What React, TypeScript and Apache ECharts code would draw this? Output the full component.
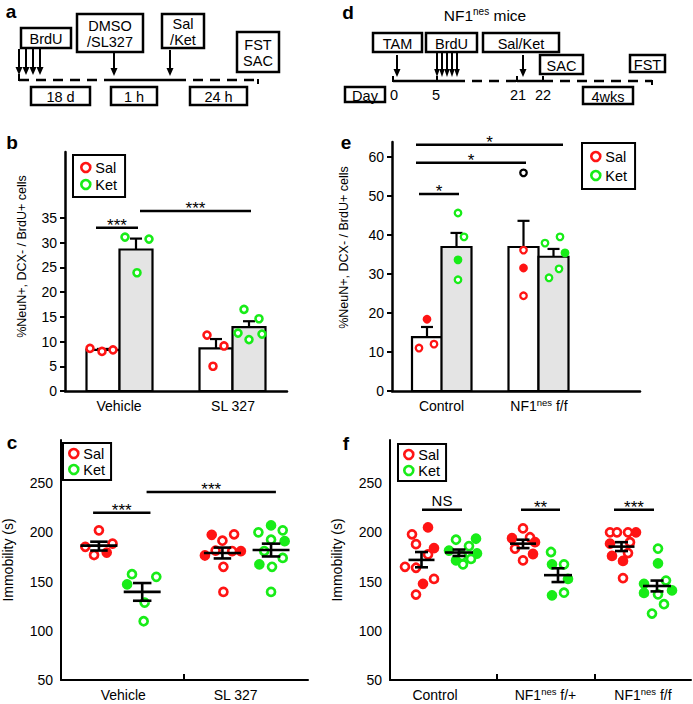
import React, { useEffect, useRef } from 'react';
import * as echarts from 'echarts';

const FONT = '"Liberation Sans", Arial, Helvetica, sans-serif';
const RED = '#ff1414';
const GREEN = '#18ec18';
const BAR_GRAY = '#e4e4e4';

// ---------------- Panel b (bars, %NeuN+ DCX- / BrdU+) ----------------
const bCategories = ['Vehicle', 'SL 327'];
const bCategoryX = [0.54, 1.68];
const bSalBarX = [0.38, 1.51];
const bKetBarX = [0.71, 1.84];
const bSalMean = [8.3, 8.6];
const bSalTop = [8.5, 10.5];
const bKetMean = [28.6, 12.9];
const bKetTop = [30.8, 14.1];
// [offset from bar centre, value, filled]
const bSalVehicle = [[-0.13, 8.6, 0], [-0.01, 8.0, 0], [0.10, 8.3, 0]];
const bSalSL327 = [[-0.09, 11.3, 0], [0.08, 9.1, 0], [-0.03, 5.0, 0]];
const bKetVehicle = [[-0.11, 31.1, 0], [0.13, 30.7, 0], [0.01, 23.9, 0]];
const bKetSL327 = [[-0.05, 16.5, 0], [0.10, 14.6, 0], [-0.11, 11.7, 0], [0.0, 10.4, 0], [0.13, 11.5, 0]];
const bSig = [[0.31, 33, 0.73], [0.75, 36.4, 1.86]];
const bSigText = ['***', '***'];
const bTicks = [0, 5, 10, 15, 20, 25, 30, 35];

// ---------------- Panel e (bars, NF1nes) ----------------
const eCategories = ['Control', '{n|NF1}{s|nes}{n| f/f}'];
const eCategoryX = [0.495, 1.47];
const eSalBarX = [0.35, 1.315];
const eKetBarX = [0.645, 1.615];
const eSalMean = [13.8, 36.9];
const eSalTop = [16.4, 43.6];
const eKetMean = [36.9, 34.4];
const eKetTop = [40.5, 36.4];
const eSalControl = [[-0.08, 11.0, 0], [0.0, 18.4, 1], [0.07, 12.0, 0]];
const eSalNF1 = [[0.0, 36.1, 0], [0.0, 31.5, 1], [0.0, 24.4, 0]];
const eSalOutlier = [[0.0, 55.9, 0]];
const eKetControl = [[0.015, 45.6, 0], [0.075, 39.5, 0], [0.015, 33.6, 1], [0.015, 28.5, 0]];
const eKetNF1 = [[-0.085, 37.9, 0], [0.065, 39.5, 0], [0.115, 35.4, 1], [0.055, 31.3, 0], [-0.045, 29.0, 0]];
const eSig = [[0.27, 50.5, 0.67], [0.24, 58.5, 1.34], [0.24, 63.1, 1.71]];
const eSigText = ['*', '*', '*'];
const eTicks = [0, 10, 20, 30, 40, 50, 60];

// ---------------- Panel c (immobility, SL327) ----------------
const cCategories = ['Vehicle', 'SL 327'];
const cCategoryX = [0.64, 1.795];
const cBoundary = [1.26];
const cSalX = [0.39, 1.66];
const cKetX = [0.835, 2.16];
const cSalMean = [186.5, 179];
const cSalLo = [181.5, 173.5];
const cSalHi = [190.5, 184.5];
const cKetMean = [139.5, 182];
const cKetLo = [130.5, 175.5];
const cKetHi = [148.5, 188.5];
const cSalVehicle = [[0.0, 202, 0], [-0.14, 185.3, 0], [0.14, 188.6, 0], [-0.05, 177, 0], [0.08, 179.4, 1]];
const cSalSL327 = [[-0.11, 197.5, 1], [0.12, 198, 0], [0.0, 191.5, 0], [-0.18, 176.5, 1], [-0.07, 181.5, 0], [0.10, 181, 0], [0.19, 181, 1], [0.01, 165, 0], [0.01, 139.5, 0]];
const cKetVehicle = [[-0.105, 157.5, 0], [0.145, 154.8, 0], [-0.155, 147.2, 1], [0.025, 128.6, 0], [0.015, 109.7, 0]];
const cKetSL327 = [[0.0, 207, 1], [-0.13, 200, 0], [0.12, 202, 0], [0.0, 192.5, 0], [0.14, 191, 1], [-0.07, 181, 0], [-0.12, 167.5, 1], [0.01, 165, 0], [0.12, 174, 0], [0.0, 139.5, 0]];
const cSig = [[0.33, 220, 0.92], [0.88, 241, 2.21]];
const cSigText = ['***', '***'];
const immTicks = [50, 100, 150, 200, 250];

// ---------------- Panel f (immobility, NF1nes) ----------------
const fCategories = ['Control', '{n|NF1}{s|nes}{n| f/+}', '{n|NF1}{s|nes}{n| f/f}'];
const fCategoryX = [0.45, 1.555, 2.53];
const fBoundary = [1.07, 2.05];
const fSalX = [0.315, 1.33, 2.315];
const fKetX = [0.69, 1.68, 2.67];
const fSalMean = [172, 188.5, 185.5];
const fSalLo = [164.5, 184, 181];
const fSalHi = [180, 192.5, 190];
const fKetMean = [179.5, 156.5, 145.5];
const fKetLo = [176, 149.5, 140];
const fKetHi = [182.5, 163.5, 151];
const fSalControl = [[0.065, 205, 1], [-0.095, 198, 0], [-0.055, 188, 0], [0.125, 184, 1], [0.065, 177.5, 0], [-0.165, 165, 0], [-0.055, 164, 0], [0.125, 152.7, 0], [0.015, 147.7, 1], [-0.055, 136.8, 0]];
const fSalHet = [[0.0, 204, 0], [-0.11, 194, 1], [0.07, 195, 0], [0.12, 190, 1], [-0.08, 183.5, 0], [0.10, 178, 1], [0.0, 171.5, 0]];
const fSalHom = [[-0.115, 200, 0], [-0.045, 200, 0], [0.145, 200, 1], [0.065, 200, 0], [-0.115, 188.5, 1], [0.085, 190, 0], [-0.095, 176, 1], [0.065, 179, 0], [0.015, 171, 1], [0.015, 153.5, 0]];
const fKetControl = [[-0.03, 192.5, 0], [0.17, 193.5, 1], [-0.10, 181.5, 1], [0.10, 186, 0], [0.18, 178.5, 1], [-0.03, 171.5, 1], [0.12, 173, 0], [0.04, 167.5, 0], [0.03, 176, 0]];
const fKetHet = [[-0.07, 180, 0], [0.06, 167.5, 0], [-0.06, 167.5, 1], [0.10, 152.7, 1], [-0.06, 136, 1], [0.06, 138.7, 0]];
const fKetHom = [[0.01, 183.5, 0], [0.01, 168.5, 1], [0.09, 151, 0], [-0.13, 147.7, 1], [-0.13, 138.5, 1], [0.01, 137, 0], [0.15, 141, 1], [0.07, 127, 0], [-0.05, 117.5, 0]];
const fSig = [[0.32, 223, 0.72], [1.31, 223, 1.70], [2.24, 223, 2.64]];
const fSigText = ['NS', '**', '***'];

const YTITLE_B = '%NeuN+, DCX- / BrdU+ cells';
const YTITLE_C = 'Immobility (s)';

// ---------------- builders ----------------
function pointData(centers: number[], groups: number[][][], color: string) {
  const out: any[] = [];
  groups.forEach((g, k) =>
    g.forEach((p) =>
      out.push({
        value: [centers[k] + p[0], p[1]],
        itemStyle: { color: p[2] ? color : '#fff', borderColor: color },
      })
    )
  );
  return out;
}

function scatterSeries(name: string, idx: number, data: any[], size: number, bw: number, z: number) {
  return {
    type: 'scatter', name, xAxisIndex: idx, yAxisIndex: idx, data, symbol: 'circle',
    symbolSize: size, itemStyle: { borderWidth: bw, opacity: 1 }, z, silent: true,
    emphasis: { disabled: true },
  };
}

function barSeries(id: string, idx: number, xs: number[], vals: number[], w: number, fill: string) {
  return {
    type: 'custom', name: id, xAxisIndex: idx, yAxisIndex: idx, z: 1, silent: true,
    data: xs.map((x, i) => [x, vals[i]]),
    renderItem: (_p: any, api: any) => {
      const a = api.coord([api.value(0) - w / 2, api.value(1)]);
      const b = api.coord([api.value(0) + w / 2, 0]);
      return {
        type: 'rect',
        shape: { x: a[0], y: a[1], width: b[0] - a[0], height: b[1] - a[1] },
        style: { fill, stroke: '#000', lineWidth: 2.2 },
      };
    },
  };
}

function barErrSeries(id: string, idx: number, xs: number[], means: number[], tops: number[], cap: number) {
  return {
    type: 'custom', name: id, xAxisIndex: idx, yAxisIndex: idx, z: 2, silent: true,
    data: xs.map((x, i) => [x, means[i], tops[i]]),
    renderItem: (_p: any, api: any) => {
      const x = api.value(0);
      const m = api.coord([x, api.value(1)]);
      const t = api.coord([x, api.value(2)]);
      const l = api.coord([x - cap, api.value(2)]);
      const r = api.coord([x + cap, api.value(2)]);
      const st = { stroke: '#000', lineWidth: 2.2 };
      return {
        type: 'group',
        children: [
          { type: 'line', shape: { x1: m[0], y1: m[1], x2: t[0], y2: t[1] }, style: st },
          { type: 'line', shape: { x1: l[0], y1: l[1], x2: r[0], y2: r[1] }, style: st },
        ],
      };
    },
  };
}

function semSeries(id: string, idx: number, xs: number[], means: number[], lo: number[], hi: number[], mw: number, cw: number) {
  return {
    type: 'custom', name: id, xAxisIndex: idx, yAxisIndex: idx, z: 5, silent: true,
    data: xs.map((x, i) => [x, means[i], lo[i], hi[i]]),
    renderItem: (_p: any, api: any) => {
      const x = api.value(0);
      const st = { stroke: '#000', lineWidth: 2.6 };
      const seg = (x1: number, y1: number, x2: number, y2: number) => {
        const a = api.coord([x1, y1]);
        const b = api.coord([x2, y2]);
        return { type: 'line', shape: { x1: a[0], y1: a[1], x2: b[0], y2: b[1] }, style: st };
      };
      return {
        type: 'group',
        children: [
          seg(x - mw, api.value(1), x + mw, api.value(1)),
          seg(x, api.value(2), x, api.value(3)),
          seg(x - cw, api.value(2), x + cw, api.value(2)),
          seg(x - cw, api.value(3), x + cw, api.value(3)),
        ],
      };
    },
  };
}

function sigSeries(id: string, idx: number, rows: number[][], labels: string[]) {
  return {
    type: 'custom', name: id, xAxisIndex: idx, yAxisIndex: idx, z: 6, silent: true,
    data: rows,
    renderItem: (p: any, api: any) => {
      const a = api.coord([api.value(0), api.value(1)]);
      const b = api.coord([api.value(2), api.value(1)]);
      const label = labels[p.dataIndex];
      const stars = label.indexOf('*') >= 0;
      return {
        type: 'group',
        children: [
          { type: 'line', shape: { x1: a[0], y1: a[1], x2: b[0], y2: b[1] }, style: { stroke: '#000', lineWidth: 2.5 } },
          {
            type: 'text', x: (a[0] + b[0]) / 2, y: a[1] + (stars ? -2 : -9),
            style: {
              text: label, fill: '#000', fontSize: stars ? 17 : 15, fontFamily: FONT,
              align: 'center', verticalAlign: 'middle',
            },
          },
        ],
      };
    },
  };
}

const richLabel = {
  n: { fontSize: 14, fontFamily: FONT, color: '#000', lineHeight: 18 },
  s: { fontSize: 9.5, fontFamily: FONT, color: '#000', lineHeight: 10, verticalAlign: 'top' },
};

function xAxis(idx: number, max: number, labels: string[], labelX: number[], ticks: number[] | null, width: number) {
  return {
    gridIndex: idx, type: 'value', min: 0, max,
    axisLine: { show: true, onZero: false, lineStyle: { color: '#000', width } },
    axisTick: ticks
      ? { show: true, inside: true, length: 6, customValues: ticks, lineStyle: { color: '#000', width: 2 } }
      : { show: false },
    splitLine: { show: false },
    axisLabel: {
      customValues: labelX, color: '#000', fontSize: 14, fontFamily: FONT, margin: 6, lineHeight: 18,
      formatter: (v: number) => {
        const i = labelX.findIndex((c) => Math.abs(c - v) < 1e-6);
        return i >= 0 ? labels[i] : '';
      },
      rich: richLabel,
    },
  };
}

function yAxis(idx: number, min: number, max: number, ticks: number[], showTicks: boolean, width: number, name: string, nameGap: number, nameSize: number, namePad: number) {
  return {
    gridIndex: idx, type: 'value', min, max,
    axisLine: { show: true, lineStyle: { color: '#000', width } },
    axisTick: showTicks
      ? { show: true, length: 5, customValues: ticks, lineStyle: { color: '#000', width: 2 } }
      : { show: false },
    splitLine: { show: false },
    axisLabel: { customValues: ticks, color: '#000', fontSize: 14, fontFamily: FONT, margin: 8 },
    name, nameLocation: 'middle', nameRotate: 90, nameGap,
    nameTextStyle: { fontSize: nameSize, color: '#000', fontFamily: FONT, padding: [0, 0, 0, namePad] },
  };
}

function legend(left: number, top: number, padding: number[], itemGap: number) {
  return {
    show: true, left, top, orient: 'vertical', itemGap, itemWidth: 9, itemHeight: 9, padding,
    borderColor: '#000', borderWidth: 2, backgroundColor: '#fff', selectedMode: false, borderRadius: 0,
    textStyle: { fontSize: 14.5, color: '#000', fontFamily: FONT },
    data: [
      { name: 'Sal', icon: 'circle', itemStyle: { color: '#fff', borderColor: RED, borderWidth: 2.6 } },
      { name: 'Ket', icon: 'circle', itemStyle: { color: '#fff', borderColor: GREEN, borderWidth: 2.6 } },
    ],
  };
}

// ---------------- schematic (panels a and d) ----------------
function box(x1: number, y1: number, x2: number, y2: number, text: string) {
  return [
    { type: 'rect', shape: { x: x1, y: y1, width: x2 - x1, height: y2 - y1 }, style: { fill: '#fff', stroke: '#000', lineWidth: 2.5 } },
    {
      type: 'text', x: (x1 + x2) / 2, y: (y1 + y2) / 2 + 1,
      style: { text, fill: '#000', fontSize: 14.5, fontFamily: FONT, align: 'center', verticalAlign: 'middle', lineHeight: 16 },
    },
  ];
}
function arrow(x: number, y1: number, y2: number, hw = 3.5, hh = 8) {
  return [
    { type: 'line', shape: { x1: x, y1, x2: x, y2: y2 - hh + 1 }, style: { stroke: '#000', lineWidth: 2 } },
    { type: 'polygon', shape: { points: [[x - hw, y2 - hh], [x + hw, y2 - hh], [x, y2]] }, style: { fill: '#000' } },
  ];
}
function seg(x1: number, y1: number, x2: number, y2: number, dashed = false, w = 2.5) {
  return {
    type: 'line', shape: { x1, y1, x2, y2 },
    style: { stroke: '#000', lineWidth: w, lineDash: dashed ? [10, 7] : null },
  };
}
function txt(x: number, y: number, text: string, size = 14.5, bold = false) {
  return {
    type: 'text', x, y,
    style: { text, fill: '#000', fontSize: size, fontWeight: bold ? 'bold' : 'normal', fontFamily: FONT, align: 'center', verticalAlign: 'middle' },
  };
}

function schematic() {
  const els: any[] = [];
  // panel a
  els.push(...box(21, 28, 71, 48, 'BrdU'));
  els.push(...box(77, 14, 143, 52, 'DMSO\n/SL327'));
  els.push(...box(162, 14, 204, 48, 'Sal\n/Ket'));
  els.push(...box(237, 32, 279, 72, 'FST\nSAC'));
  [19, 26, 33, 40].forEach((x) => els.push(...arrow(x, 49, 75, 3.5, 8)));
  els.push(...arrow(114, 53, 76));
  els.push(...arrow(170, 50, 76));
  els.push(seg(19, 74, 19, 81, false, 2));
  els.push(seg(19, 80, 110, 80, true));
  els.push(seg(110, 80, 176, 80));
  els.push(seg(176, 80, 258, 80, true));
  els.push(seg(258, 79, 258, 84, false, 2));
  els.push(...box(31, 87, 90, 105, '18 d'));
  els.push(...box(111, 87, 157, 105, '1 h'));
  els.push(...box(190, 87, 247, 105, '24 h'));
  // panel d
  els.push({
    type: 'text', x: 485, y: 15,
    style: {
      text: '{n|NF1}{s|nes}{n| mice}', align: 'center', verticalAlign: 'middle',
      rich: {
        n: { fontSize: 15.5, fontFamily: FONT, fill: '#000', lineHeight: 18 },
        s: { fontSize: 10, fontFamily: FONT, fill: '#000', lineHeight: 11, verticalAlign: 'top' },
      },
    },
  });
  els.push(...box(373, 33, 422, 52, 'TAM'));
  els.push(...box(426, 33, 477, 52, 'BrdU'));
  els.push(...box(483, 33, 559, 52, 'Sal/Ket'));
  els.push(...box(540, 55, 583, 74, 'SAC'));
  els.push(...box(630, 55, 665, 72, 'FST'));
  els.push(...arrow(397, 55, 77));
  [437, 442, 447, 452, 457].forEach((x) => els.push(...arrow(x, 53, 77, 2.8, 8)));
  els.push(...arrow(523, 55, 77));
  els.push(seg(393, 81, 455, 81));
  els.push(seg(455, 81, 517, 81, true));
  els.push(seg(517, 81, 543, 81));
  els.push(seg(543, 81, 652, 81, true));
  [393, 437, 517, 543].forEach((x) => els.push(seg(x, 76, x, 82, false, 2)));
  els.push(seg(652, 80, 652, 85, false, 2));
  els.push(...box(345, 87, 385, 102, 'Day'));
  els.push(...box(583, 87, 633, 104, '4wks'));
  els.push(txt(394, 95, '0'));
  els.push(txt(436, 95, '5'));
  els.push(txt(518, 95, '21'));
  els.push(txt(543, 95, '22'));
  // panel letters
  els.push(txt(11, 11, 'a', 19, true));
  els.push(txt(348, 12, 'd', 19, true));
  els.push(txt(12, 142, 'b', 19, true));
  els.push(txt(346, 142, 'e', 19, true));
  els.push(txt(12, 442, 'c', 19, true));
  els.push(txt(346, 443, 'f', 19, true));
  return els;
}

function buildOption() {
  const series: any[] = [
    // panel b
    barSeries('b-sal-bar', 0, bSalBarX, bSalMean, 0.33, '#fff'),
    barSeries('b-ket-bar', 0, bKetBarX, bKetMean, 0.33, BAR_GRAY),
    barErrSeries('b-sal-err', 0, bSalBarX, bSalMean, bSalTop, 0.06),
    barErrSeries('b-ket-err', 0, bKetBarX, bKetMean, bKetTop, 0.06),
    scatterSeries('Sal', 0, pointData(bSalBarX, [bSalVehicle, bSalSL327], RED), 7, 2.6, 3),
    scatterSeries('Ket', 0, pointData(bKetBarX, [bKetVehicle, bKetSL327], GREEN), 7, 2.6, 3),
    sigSeries('b-sig', 0, bSig, bSigText),
    // panel e
    barSeries('e-sal-bar', 1, eSalBarX, eSalMean, 0.3, '#fff'),
    barSeries('e-ket-bar', 1, eKetBarX, eKetMean, 0.3, BAR_GRAY),
    barErrSeries('e-sal-err', 1, eSalBarX, eSalMean, eSalTop, 0.06),
    barErrSeries('e-ket-err', 1, eKetBarX, eKetMean, eKetTop, 0.06),
    scatterSeries('Sal', 1, pointData(eSalBarX, [eSalControl, eSalNF1], RED), 6.5, 2.3, 3),
    scatterSeries('Sal', 1, pointData([eSalBarX[1]], [eSalOutlier], '#000'), 6.5, 2.3, 3),
    scatterSeries('Ket', 1, pointData(eKetBarX, [eKetControl, eKetNF1], GREEN), 6.5, 2.3, 3),
    sigSeries('e-sig', 1, eSig, eSigText),
    // panel c
    scatterSeries('Sal', 2, pointData(cSalX, [cSalVehicle, cSalSL327], RED), 8, 2.7, 3),
    scatterSeries('Ket', 2, pointData(cKetX, [cKetVehicle, cKetSL327], GREEN), 8, 2.7, 3),
    semSeries('c-sal-sem', 2, cSalX, cSalMean, cSalLo, cSalHi, 0.19, 0.09),
    semSeries('c-ket-sem', 2, cKetX, cKetMean, cKetLo, cKetHi, 0.19, 0.095),
    sigSeries('c-sig', 2, cSig, cSigText),
    // panel f
    scatterSeries('Sal', 3, pointData(fSalX, [fSalControl, fSalHet, fSalHom], RED), 8, 2.7, 3),
    scatterSeries('Ket', 3, pointData(fKetX, [fKetControl, fKetHet, fKetHom], GREEN), 8, 2.7, 3),
    semSeries('f-sal-sem', 3, fSalX, fSalMean, fSalLo, fSalHi, 0.13, 0.065),
    semSeries('f-ket-sem', 3, fKetX, fKetMean, fKetLo, fKetHi, 0.14, 0.065),
    sigSeries('f-sig', 3, fSig, fSigText),
  ];

  return {
    animation: false,
    backgroundColor: '#fff',
    textStyle: { fontFamily: FONT },
    grid: [
      { left: 65, top: 152, width: 222, height: 239 },
      { left: 392, top: 142, width: 248, height: 249 },
      { left: 54, top: 440, width: 254, height: 245 },
      { left: 390, top: 440, width: 301, height: 245 },
    ],
    xAxis: [
      xAxis(0, 2.22, bCategories, bCategoryX, null, 2.5),
      xAxis(1, 2.48, eCategories, eCategoryX, null, 2.5),
      xAxis(2, 2.54, cCategories, cCategoryX, cBoundary, 2),
      xAxis(3, 3.01, fCategories, fCategoryX, fBoundary, 2),
    ],
    yAxis: [
      yAxis(0, 0, 48.3, bTicks, true, 2.5, YTITLE_B, 37, 12.5, 30),
      yAxis(1, 0, 63.8, eTicks, true, 2.5, YTITLE_B, 42, 12.5, 38),
      yAxis(2, 50, 293.8, immTicks, false, 2, YTITLE_C, 46, 14, 0),
      yAxis(3, 50, 293.8, immTicks, false, 2, YTITLE_C, 46, 14, 0),
    ],
    legend: [
      legend(73, 155, [5, 8, 5, 7], 2),
      legend(582, 143, [6, 8, 6, 8], 4),
      legend(63, 443, [3, 6, 3, 5], 1),
      legend(398, 444, [3, 6, 3, 5], 1),
    ],
    graphic: { elements: schematic() },
    series,
  };
}

export default function App() {
  const ref = useRef<HTMLDivElement>(null);
  useEffect(() => {
    const chart = echarts.init(ref.current!, null, { renderer: 'svg' });
    chart.setOption(buildOption() as any);
    return () => chart.dispose();
  }, []);
  return (
    <div
      ref={ref}
      style={{ position: 'fixed', left: 0, top: 0, width: 693, height: 704, background: '#fff' }}
    />
  );
}
